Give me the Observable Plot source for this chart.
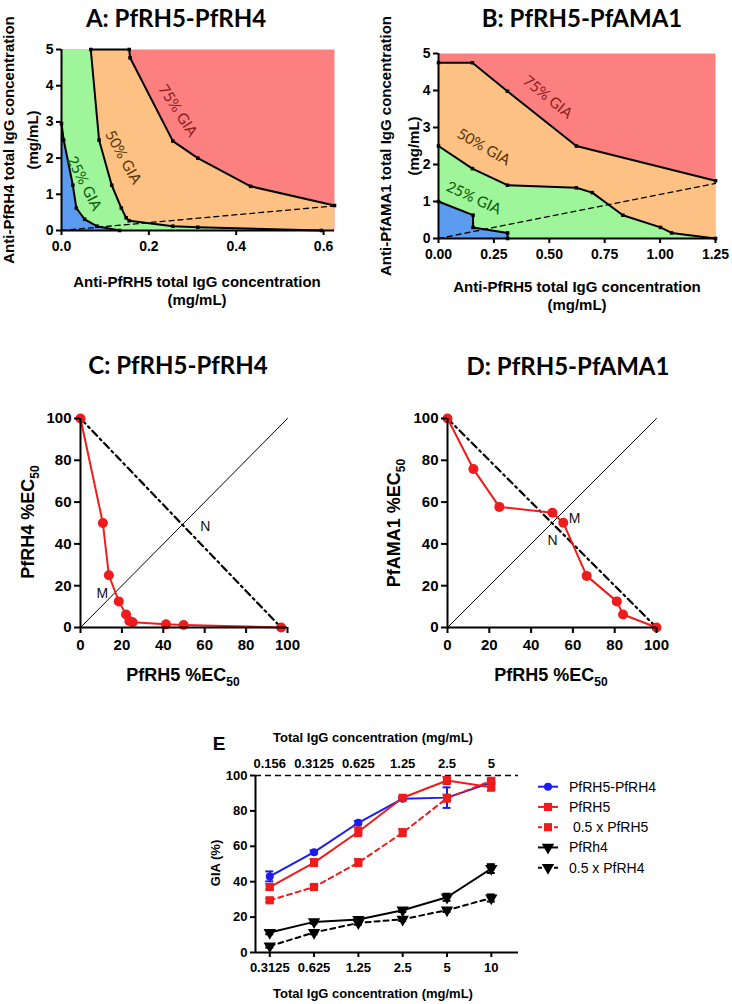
<!DOCTYPE html>
<html><head><meta charset="utf-8">
<script src="https://cdn.jsdelivr.net/npm/d3@7"></script>
<script src="https://cdn.jsdelivr.net/npm/@observablehq/plot@0.6"></script>
<style>
body{margin:0;background:#fff;}
#root{position:relative;width:732px;height:1004px;overflow:hidden;font-family:"Liberation Sans",Arial,sans-serif;color:#000;}
.abs{position:absolute;white-space:nowrap;}
</style></head><body><div id="root"></div>
<script>
// ---------- Panel A: PfRH5-PfRH4 isobologram (mg/mL) ----------
const aRH5_25 = [0, 0.005, 0.026, 0.034, 0.053, 0.081, 0.133];
const aRH4_25 = [2.95, 2.5, 1.25, 0.62, 0.31, 0.12, 0];
const aRH5_50 = [0.067, 0.086, 0.115, 0.137, 0.148, 0.155, 0.255, 0.312, 0.595];
const aRH4_50 = [5, 2.5, 1.25, 0.62, 0.35, 0.27, 0.12, 0.09, 0];
const aRH5_75 = [0.155, 0.157, 0.255, 0.312, 0.433, 0.625];
const aRH4_75 = [5, 4.77, 2.47, 2.0, 1.22, 0.69];
const aRatioX = [0, 0.625];
const aRatioY = [0, 0.68];
const aXTicks = [0, 0.2, 0.4, 0.6];
const aYTicks = [0, 1, 2, 3, 4, 5];
const aLabelText = ["75% GIA", "50% GIA", "25% GIA"];
const aLabelX = [0.266, 0.141, 0.052];
const aLabelY = [3.31, 2.02, 1.30];
const aLabelAngle = [57, 61, 63];

// ---------- Panel B: PfRH5-PfAMA1 isobologram (mg/mL) ----------
const bRH5_25 = [0, 0.156, 0.156, 0.312, 0.312];
const bAMA_25 = [1.0, 0.63, 0.30, 0.15, 0];
const bRH5_50 = [0, 0.153, 0.311, 0.622, 0.694, 0.832, 1.002, 1.052, 1.25];
const bAMA_50 = [2.5, 1.89, 1.44, 1.37, 1.24, 0.63, 0.30, 0.15, 0];
const bRH5_75 = [0, 0.153, 0.311, 0.622, 1.25];
const bAMA_75 = [4.75, 4.75, 3.98, 2.5, 1.56];
const bRatioX = [0, 1.25];
const bRatioY = [0, 1.49];
const bXTicks = [0, 0.25, 0.5, 0.75, 1.0, 1.25];
const bYTicks = [0, 1, 2, 3, 4, 5];
const bLabelText = ["75% GIA", "50% GIA", "25% GIA"];
const bLabelX = [0.493, 0.204, 0.159];
const bLabelY = [3.82, 2.47, 1.09];
const bLabelAngle = [39, 30, 25];

// ---------- Panels C, D: normalised isobolograms (%EC50) ----------
const cRH5 = [0, 10.8, 13.7, 18.5, 22.0, 23.6, 25.2, 41.3, 49.8, 96.9];
const cRH4 = [100, 50, 25, 12.5, 6.2, 3.1, 2.5, 1.5, 1.2, 0];
const dRH5 = [0, 12.4, 24.8, 50.2, 55.4, 66.6, 81.0, 84.0, 100];
const dAMA = [100, 75.8, 57.7, 54.9, 50.1, 24.7, 12.5, 6.2, 0];
const pctTicks = [0, 20, 40, 60, 80, 100];
const cMN = ["M", "N"]; const cMNx = [10.6, 60.3]; const cMNy = [16.4, 48.5];
const dMN = ["M", "N"]; const dMNx = [60.8, 50.3]; const dMNy = [52.3, 41.8];

// ---------- Panel E: GIA dose response ----------
const eConc = [0.3125, 0.625, 1.25, 2.5, 5, 10];
const eBottomLabels = ["0.3125", "0.625", "1.25", "2.5", "5", "10"];
const eTopLabels = ["0.156", "0.3125", "0.625", "1.25", "2.5", "5"];
const eNames = ["PfRH5-PfRH4", "PfRH5", " 0.5 x PfRH5", "PfRh4", "0.5 x PfRH4"];
const eRH5RH4 = [43, 56.7, 73.3, 86.9, 87.5, 96];
const eRH5 = [37, 50.8, 68.2, 87.4, 97.2, 93.4];
const eHalfRH5 = [29.5, 37, 50.8, 67.7, 87.2, 97];
const eRH4 = [11.3, 17.3, 18.6, 23.9, 31.2, 47.4];
const eHalfRH4 = [3.6, 11.3, 16.7, 18.8, 23.9, 30.8];
const eErrRH5RH4 = [2.8, 1, 1, 0.5, 5.8, 1];
const eErrRH5 = [1.5, 2, 2.5, 0.8, 2, 2];
const eErrHalfRH5 = [1, 1, 2, 2, 2, 1];
const eErrRH4 = [1, 1, 1, 1, 2, 2.5];
const eErrHalfRH4 = [0.8, 1, 1, 1, 1, 2];
const eYTicks = [0, 20, 40, 60, 80, 100];

// ---------- styles ----------
const C_RED = "#fd8080", C_ORANGE = "#fdc283", C_GREEN = "#9ef59a", C_BLUE = "#5b9bf0";
const LABEL_COLORS = ["#8a1c1c", "#5a3200", "#0a5a0a"];
const LINE_RED = "#ee1c1c", LINE_BLUE = "#1c1cf0";
const eColors = [LINE_BLUE, LINE_RED, LINE_RED, "#000", "#000"];
const eDash = [null, null, "5,4", null, "5,4"];
const triDown = {draw(ctx, size){const y = -Math.sqrt(size/(Math.sqrt(3)*3)); const s = Math.sqrt(3);
  ctx.moveTo(0, -y*2); ctx.lineTo(-s*y, y); ctx.lineTo(s*y, y); ctx.closePath();}};
const eSymbols = ["circle", "square", "square", triDown, triDown];
const eR = [4, 4.6, 4.6, 4.6, 4.6];

const root = document.getElementById("root");
function addDiv(html, cx, cy, css, rot = 0){
  const d = document.createElement("div");
  d.className = "abs"; d.innerHTML = html;
  d.style.left = cx + "px"; d.style.top = cy + "px";
  d.style.transform = `translate(-50%,-50%) rotate(${rot}deg)`;
  Object.assign(d.style, css);
  root.append(d);
}
function place(el, left, top){ el.style.position = "absolute"; el.style.left = left + "px"; el.style.top = top + "px"; root.append(el); }
const zip = (xs, ys) => xs.map((x, i) => ({x, y: ys[i]}));
const region = (xs, ys, xmin) => { const p = zip(xs, ys); if (xs[0] > xmin) p.unshift({x: xmin, y: ys[0]}); return p; };
const plotStyle = {fontFamily: "'Liberation Sans', Arial, sans-serif", fontSize: "14px", fontWeight: "bold", background: "transparent", overflow: "visible", color: "#000"};
const titleCss = {fontFamily: "Lato, 'Open Sans', sans-serif", fontWeight: "bold", fontSize: "24px"};
const labCss = {fontWeight: "bold", fontSize: "15px", textAlign: "center"};

function isobologram(opt){
  const {x25, y25, x50, y50, x75, y75, rx, ry, xDomain, xTicks, yTicks, fmt, labels, lx, ly, la} = opt;
  const lab = labels.map((t, i) => ({t, x: lx[i], y: ly[i], a: la[i], c: LABEL_COLORS[i]}));
  const curves = [zip(x25, y25), zip(x50, y50), zip(x75, y75)];
  const marks = [
    Plot.frame({fill: C_RED, stroke: null}),
    Plot.areaY(region(x75, y75, xDomain[0]), {x: "x", y1: 0, y2: "y", fill: C_ORANGE}),
    Plot.areaY(region(x50, y50, xDomain[0]), {x: "x", y1: 0, y2: "y", fill: C_GREEN}),
    Plot.areaY(region(x25, y25, xDomain[0]), {x: "x", y1: 0, y2: "y", fill: C_BLUE}),
    Plot.line(zip(rx, ry), {x: "x", y: "y", stroke: "#000", strokeWidth: 1.3, strokeDasharray: "5,4"}),
  ];
  if (opt.topJoin) marks.push(Plot.line([curves[1][0], curves[2][0]], {x: "x", y: "y", stroke: "#000", strokeWidth: 2}));
  curves.forEach(c => {
    marks.push(Plot.line(c, {x: "x", y: "y", stroke: "#000", strokeWidth: 2}));
    marks.push(Plot.dot(c, {x: "x", y: "y", symbol: "square", r: 2, fill: "#000", stroke: null}));
  });
  marks.push(
    Plot.text(lab, {x: "x", y: "y", text: "t", rotate: "a", fill: "c", fontSize: 15, fontWeight: "normal", fontFamily: "Lato, 'Open Sans', sans-serif"}),
    Plot.ruleX([xDomain[0]], {strokeWidth: 2}),
    Plot.ruleY([0], {strokeWidth: 2}),
    Plot.axisX({ticks: xTicks, tickFormat: d3.format(fmt), tickSize: 5, tickPadding: 6, strokeWidth: 2, label: null}),
    Plot.axisY({ticks: yTicks, tickFormat: d3.format("d"), tickSize: 5, tickPadding: 3, strokeWidth: 2, label: null})
  );
  return Plot.plot({
    width: 366, height: 330, marginLeft: opt.ml, marginRight: opt.mr, marginTop: opt.mt, marginBottom: opt.mb,
    x: {domain: xDomain}, y: {domain: [0, 5]}, style: plotStyle, marks
  });
}

place(isobologram({x25: aRH5_25, y25: aRH4_25, x50: aRH5_50, y50: aRH4_50, x75: aRH5_75, y75: aRH4_75,
  rx: aRatioX, ry: aRatioY, xDomain: [0, 0.625], xTicks: aXTicks, yTicks: aYTicks, fmt: ".1f",
  labels: aLabelText, lx: aLabelX, ly: aLabelY, la: aLabelAngle, ml: 61, mr: 32, mt: 49, mb: 100, topJoin: true}), 0, 0);
place(isobologram({x25: bRH5_25, y25: bAMA_25, x50: bRH5_50, y50: bAMA_50, x75: bRH5_75, y75: bAMA_75,
  rx: bRatioX, ry: bRatioY, xDomain: [0, 1.25], xTicks: bXTicks, yTicks: bYTicks, fmt: ".2f",
  labels: bLabelText, lx: bLabelX, ly: bLabelY, la: bLabelAngle, ml: 72, mr: 17, mt: 53, mb: 92}), 366, 0);

addDiv("A: PfRH5-PfRH4", 176, 17, titleCss);
addDiv("B: PfRH5-PfAMA1", 582, 17, titleCss);
addDiv("Anti-PfRH4 total IgG concentration<br>(mg/mL)", 21, 140, {...labCss, lineHeight: "24px"}, -90);
addDiv("Anti-PfAMA1 total IgG concentration<br>(mg/mL)", 400, 146, {...labCss, lineHeight: "28px"}, -90);
addDiv("Anti-PfRH5 total IgG concentration<br>(mg/mL)", 197, 291, {...labCss, lineHeight: "18px"});
addDiv("Anti-PfRH5 total IgG concentration<br>(mg/mL)", 577, 296, {...labCss, lineHeight: "18px"});

function normIso(xs, ys, mn, mnx, mny, ml, mr){
  const pts = zip(xs, ys);
  const equal = pctTicks.filter((v, i) => i === 0 || i === pctTicks.length - 1).map(v => ({x: v, y: v}));
  const additive = [pts[0], pts[pts.length - 1]];
  const mnData = mn.map((t, i) => ({t, x: mnx[i], y: mny[i]}));
  return Plot.plot({
    width: 366, height: 340, marginLeft: ml, marginRight: mr, marginTop: 88, marginBottom: 43,
    x: {domain: [0, 100]}, y: {domain: [0, 100]}, style: {...plotStyle, fontSize: "15px"},
    marks: [
      Plot.line(equal, {x: "x", y: "y", stroke: "#000", strokeWidth: 1}),
      Plot.line(additive, {x: "x", y: "y", stroke: "#000", strokeWidth: 2.2, strokeDasharray: "7,4,2,4"}),
      Plot.line(pts, {x: "x", y: "y", stroke: LINE_RED, strokeWidth: 2}),
      Plot.dot(pts, {x: "x", y: "y", r: 5, fill: LINE_RED, stroke: null}),
      Plot.text(mnData, {x: "x", y: "y", text: "t", fontSize: 14, fontWeight: "normal", fill: "#111"}),
      Plot.ruleX([0], {strokeWidth: 2}),
      Plot.ruleY([0], {strokeWidth: 2}),
      Plot.axisX({ticks: pctTicks, tickSize: 6, tickPadding: 6, strokeWidth: 2, label: null}),
      Plot.axisY({ticks: pctTicks, tickSize: 6, tickPadding: 3, strokeWidth: 2, label: null})
    ]
  });
}
place(normIso(cRH5, cRH4, cMN, cMNx, cMNy, 80, 79), 0, 330);
place(normIso(dRH5, dAMA, dMN, dMNx, dMNy, 81, 76), 366, 330);
addDiv("C: PfRH5-PfRH4", 178, 364, titleCss);
addDiv("D: PfRH5-PfAMA1", 568, 365, titleCss);
const ecCss = {fontWeight: "bold", fontSize: "18px"};
addDiv("PfRH4 %EC<sub style='font-size:12px'>50</sub>", 30, 522, ecCss, -90);
addDiv("PfAMA1 %EC<sub style='font-size:12px'>50</sub>", 396, 523, ecCss, -90);
addDiv("PfRH5 %EC<sub style='font-size:12px'>50</sub>", 183, 677, ecCss);
addDiv("PfRH5 %EC<sub style='font-size:12px'>50</sub>", 551, 677, ecCss);

// ---------- Panel E ----------
const eVals = [eRH5RH4, eRH5, eHalfRH5, eRH4, eHalfRH4];
const eErrs = [eErrRH5RH4, eErrRH5, eErrHalfRH5, eErrRH4, eErrHalfRH4];
const capF = Math.pow(2, 4 / 44.3);
const bottomMap = new Map(eConc.map((c, i) => [c, eBottomLabels[i]]));
const topMap = new Map(eConc.map((c, i) => [c, eTopLabels[i]]));
const eMarks = [Plot.ruleY([100], {stroke: "#000", strokeWidth: 1.6, strokeDasharray: "6,4"})];
eVals.forEach((vals, s) => {
  const rows = eConc.map((c, i) => ({conc: c, gia: vals[i], err: eErrs[s][i]}));
  eMarks.push(Plot.line(rows, {x: "conc", y: "gia", stroke: eColors[s], strokeWidth: 2, strokeDasharray: eDash[s]}));
});
eVals.forEach((vals, s) => {
  const rows = eConc.map((c, i) => ({conc: c, gia: vals[i], err: eErrs[s][i]}));
  eMarks.push(
    Plot.ruleX(rows, {x: "conc", y1: d => d.gia - d.err, y2: d => d.gia + d.err, stroke: eColors[s], strokeWidth: 2}),
    Plot.ruleY(rows, {y: d => d.gia + d.err, x1: d => d.conc / capF, x2: d => d.conc * capF, stroke: eColors[s], strokeWidth: 2}),
    Plot.ruleY(rows, {y: d => d.gia - d.err, x1: d => d.conc / capF, x2: d => d.conc * capF, stroke: eColors[s], strokeWidth: 2}),
    Plot.dot(rows, {x: "conc", y: "gia", symbol: eSymbols[s], r: eR[s], fill: eColors[s], stroke: null})
  );
});
eMarks.push(
  Plot.ruleX([0.25], {strokeWidth: 2}),
  Plot.ruleY([0], {strokeWidth: 2}),
  Plot.axisX({ticks: eConc, tickFormat: d => bottomMap.get(d), tickSize: 5, tickPadding: 5, strokeWidth: 2, label: null}),
  Plot.axisX({anchor: "top", ticks: eConc, tickFormat: d => topMap.get(d), tickSize: 0, tickPadding: 8, label: null}),
  Plot.axisY({ticks: eYTicks, tickSize: 5, tickPadding: 3, strokeWidth: 2, label: null})
);
place(Plot.plot({
  width: 732, height: 284, marginLeft: 255, marginRight: 214, marginTop: 55, marginBottom: 52,
  x: {type: "log", base: 2, domain: [0.25, 15.3]}, y: {domain: [0, 100]},
  style: {...plotStyle, fontSize: "13px"}, marks: eMarks
}), 0, 720);
const eTitleCss = {fontWeight: "bold", fontSize: "13px"};
addDiv("Total IgG concentration (mg/mL)", 373, 737, eTitleCss);
addDiv("Total IgG concentration (mg/mL)", 373, 993, eTitleCss);
addDiv("GIA (%)", 215, 863, eTitleCss, -90);
addDiv("E", 219, 744, {fontWeight: "bold", fontSize: "19px"});

// legend
const leg = d3.create("svg").attr("width", 200).attr("height", 104);
eNames.forEach((name, i) => {
  const cy = 10.7 + i * 20.25;
  const g = leg.append("g");
  g.append("line").attr("x1", 6).attr("x2", 26).attr("y1", cy).attr("y2", cy)
    .attr("stroke", eColors[i]).attr("stroke-width", 2).attr("stroke-dasharray", eDash[i] ? "4,4" : null);
  const sym = typeof eSymbols[i] === "string" ? (eSymbols[i] === "circle" ? d3.symbolCircle : d3.symbolSquare) : eSymbols[i];
  g.append("path").attr("d", d3.symbol(sym, Math.PI * eR[i] * eR[i])()).attr("transform", `translate(16,${cy})`).attr("fill", eColors[i]);
  g.append("text").attr("x", 37).attr("y", cy).attr("dy", "0.35em").attr("font-size", 14)
    .attr("font-family", "'Liberation Sans', Arial, sans-serif").attr("xml:space", "preserve").style("white-space", "pre").text(name);
});
place(leg.node(), 532, 776);
</script></body></html>
